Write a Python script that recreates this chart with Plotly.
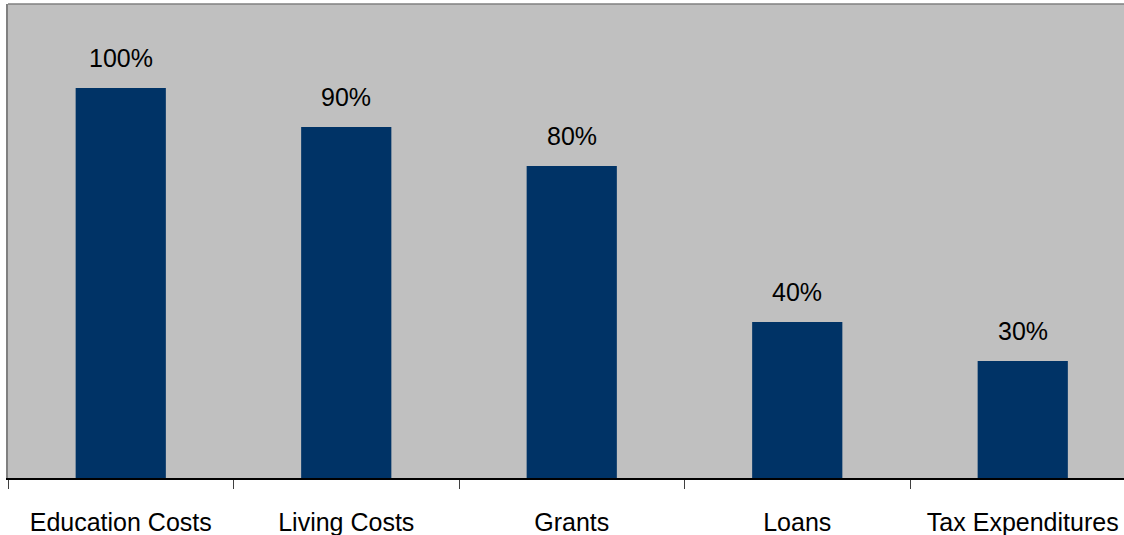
import plotly.graph_objects as go

categories = ["Education Costs", "Living Costs", "Grants", "Loans", "Tax Expenditures"]
values = [100, 90, 80, 40, 30]
labels = ["100%", "90%", "80%", "40%", "30%"]

FONT = "Liberation Sans"
fig = go.Figure()
fig.add_trace(go.Bar(
    x=categories, y=values, width=0.4,
    marker=dict(color="#003366", line=dict(width=0)),
    hoverinfo="skip",
))
for c, v, t in zip(categories, values, labels):
    fig.add_annotation(x=c, y=v, text=t, showarrow=False, yanchor="middle",
                       yshift=30, font=dict(family=FONT, size=25, color="#000000"))

fig.add_shape(type="line", xref="paper", yref="paper", x0=0, x1=1, y0=1, y1=1,
              line=dict(color="#808080", width=1.5))

fig.update_layout(
    width=1124, height=535,
    margin=dict(l=8, r=0, t=4, b=57),
    paper_bgcolor="#FFFFFF", plot_bgcolor="#C0C0C0",
    showlegend=False,
    font=dict(family=FONT, size=25, color="#000000"),
    xaxis=dict(
        type="category", range=[-0.5, 4.449], tickson="boundaries",
        ticks="outside", ticklen=9, tickcolor="#404040", tickwidth=1,
        showline=True, linecolor="#000000", linewidth=1.5,
        showgrid=False, zeroline=False, ticklabelstandoff=21,
        tickfont=dict(family=FONT, size=25, color="#000000"),
    ),
    yaxis=dict(
        range=[0, 121.5], showticklabels=False, showgrid=False, zeroline=False,
        showline=True, linecolor="#808080", linewidth=1.5, ticks="",
    ),
)
fig.write_html("out.html")
